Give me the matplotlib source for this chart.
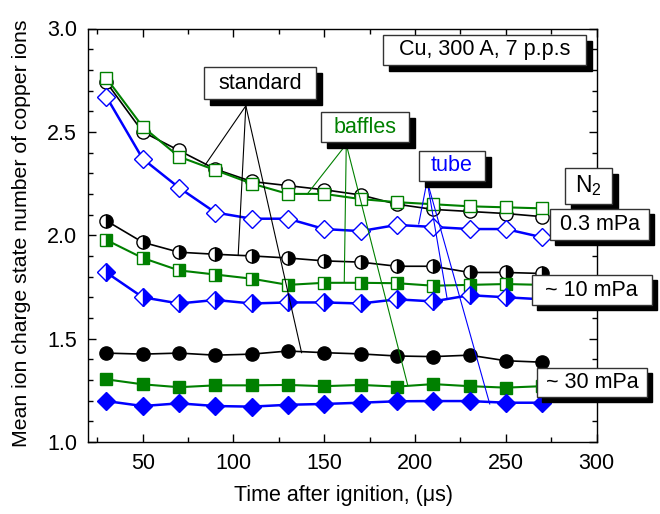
import matplotlib
matplotlib.use("Agg")
import matplotlib.pyplot as plt
from matplotlib.patches import Rectangle
from matplotlib.ticker import MultipleLocator

plt.rcParams['font.family'] = ['Liberation Sans', 'DejaVu Sans']
plt.rcParams['mathtext.fontset'] = 'custom'
plt.rcParams['mathtext.rm'] = 'Liberation Sans'
plt.rcParams['mathtext.default'] = 'regular'

# ---------------- data ----------------
time_us = [30, 50, 70, 90, 110, 130, 150, 170, 190, 210, 230, 250, 270]

standard_03 = [2.74, 2.50, 2.41, 2.32, 2.26, 2.24, 2.22, 2.195, 2.15, 2.125, 2.115, 2.105, 2.09]
baffles_03 = [2.76, 2.525, 2.38, 2.315, 2.25, 2.20, 2.20, 2.175, 2.16, 2.15, 2.14, 2.135, 2.13]
tube_03 = [2.67, 2.37, 2.23, 2.11, 2.08, 2.08, 2.03, 2.02, 2.05, 2.04, 2.03, 2.03, 1.99]

standard_10 = [2.07, 1.966, 1.918, 1.908, 1.90, 1.89, 1.876, 1.87, 1.85, 1.85, 1.82, 1.82, 1.815]
baffles_10 = [1.977, 1.89, 1.83, 1.81, 1.79, 1.76, 1.77, 1.77, 1.768, 1.756, 1.76, 1.764, 1.76]
tube_10 = [1.82, 1.70, 1.67, 1.687, 1.67, 1.675, 1.675, 1.67, 1.69, 1.68, 1.71, 1.70, 1.69]

standard_30 = [1.43, 1.425, 1.43, 1.42, 1.425, 1.44, 1.432, 1.426, 1.416, 1.413, 1.42, 1.393, 1.386]
baffles_30 = [1.303, 1.279, 1.265, 1.274, 1.274, 1.276, 1.27, 1.276, 1.268, 1.28, 1.27, 1.263, 1.27]
tube_30 = [1.198, 1.174, 1.187, 1.174, 1.171, 1.18, 1.184, 1.19, 1.197, 1.198, 1.198, 1.19, 1.19]

x_label = "Time after ignition, (\u03bcs)"
y_label = "Mean ion charge state number of copper ions"
title_box = "Cu, 300 A, 7 p.p.s"
gas_label = "N$_2$"
pressure_labels = ["0.3 mPa", "~ 10 mPa", "~ 30 mPa"]
source_labels = ["standard", "baffles", "tube"]

# leader lines: (origin, [ends]) in data coordinates
leader_standard = ((106.8, 2.626), [(84.4, 2.340), (102.6, 1.905), (137.5, 1.432)])
leader_baffles = ((162.1, 2.440), [(140.5, 2.198), (161.0, 1.776), (195.9, 1.276)])
leader_tube = ((206.6, 2.263), [(202.0, 2.055), (217.6, 1.695), (241.1, 1.184)])

# ---------------- figure ----------------
W, H = 660, 514
fig = plt.figure(figsize=(W / 100, H / 100), dpi=100)
ax = fig.add_axes([88.2 / W, 1 - 442 / H, (596.7 - 88.2) / W, (442 - 28.5) / H])

BLACK = 'black'
GREEN = '#008000'
BLUE = '#0000ff'

def series(y, color, marker, fill, lw, ms):
    kw = dict(color=color, lw=lw, marker=marker, ms=ms, mec=color, mew=1.0, zorder=3)
    if fill == 'open':
        kw.update(mfc='white')
    elif fill == 'half':
        kw.update(fillstyle='right', mfc=color, mfcalt='white')
    else:
        kw.update(mfc=color)
    ax.plot(time_us, y, **kw)

series(standard_03, BLACK, 'o', 'open', 1.2, 9.5)
series(baffles_03, GREEN, 's', 'open', 1.5, 9)
series(tube_03, BLUE, 'D', 'open', 1.8, 9)

series(standard_10, BLACK, 'o', 'half', 1.2, 9.5)
series(baffles_10, GREEN, 's', 'half', 1.5, 9)
series(tube_10, BLUE, 'D', 'half', 1.8, 9)

series(standard_30, BLACK, 'o', 'full', 1.2, 9.5)
series(baffles_30, GREEN, 's', 'full', 1.5, 9)
series(tube_30, BLUE, 'D', 'full', 1.8, 9)

for (origin, ends), col in [(leader_standard, BLACK), (leader_baffles, GREEN), (leader_tube, BLUE)]:
    for e in ends:
        ax.plot([origin[0], e[0]], [origin[1], e[1]], color=col, lw=0.8, zorder=4)

ax.set_xlim(20, 300)
ax.set_ylim(1.0, 3.0)
ax.xaxis.set_major_locator(MultipleLocator(50))
ax.xaxis.set_minor_locator(MultipleLocator(25))
ax.yaxis.set_major_locator(MultipleLocator(0.5))
ax.yaxis.set_minor_locator(MultipleLocator(0.1))
ax.yaxis.set_major_formatter(matplotlib.ticker.FormatStrFormatter('%.1f'))
ax.tick_params(which='both', direction='in', top=True, right=True, labelsize=15.5, width=1.0)
ax.tick_params(which='major', length=6, pad=8)
ax.tick_params(which='minor', length=3.5)
ax.set_xticks([50, 100, 150, 200, 250, 300])
for s in ax.spines.values():
    s.set_linewidth(1.0)

fig.text(343 / W, 1 - 496 / H, x_label, ha='center', va='center', fontsize=15.5)
fig.text(22 / W, 1 - 233 / H, y_label, ha='center', va='center', rotation=90, fontsize=15.3)

def box(x0, y0, x1, y1, text, color='black', off=6, fs=15.5):
    sh = Rectangle(((x0 + off) / W, 1 - (y1 + off) / H), (x1 - x0) / W, (y1 - y0) / H,
                   transform=fig.transFigure, fc='black', ec='black', lw=1, zorder=9, clip_on=False)
    bx = Rectangle((x0 / W, 1 - y1 / H), (x1 - x0) / W, (y1 - y0) / H,
                   transform=fig.transFigure, fc='white', ec='#333333', lw=1, zorder=10, clip_on=False)
    ax.add_patch(sh)
    ax.add_patch(bx)
    ax.text((x0 + x1) / 2 / W, 1 - (y0 + y1) / 2 / H, text, transform=fig.transFigure,
            ha='center', va='center', color=color, fontsize=fs, zorder=11, clip_on=False)

box(383, 35, 586, 65, title_box)
box(204, 67.3, 315.7, 99, source_labels[0], BLACK)
box(320.7, 112.3, 409.3, 142.3, source_labels[1], GREEN)
box(419, 151, 485, 180.7, source_labels[2], BLUE)
box(565, 167.7, 611.7, 204, gas_label, fs=16.5)
box(550, 209.3, 649.3, 240, pressure_labels[0], off=5)
box(531.7, 275, 651.7, 305, pressure_labels[1], off=5)
box(536.7, 368.3, 647.3, 396.7, pressure_labels[2], off=5)

fig.savefig('out.png', dpi=100)
